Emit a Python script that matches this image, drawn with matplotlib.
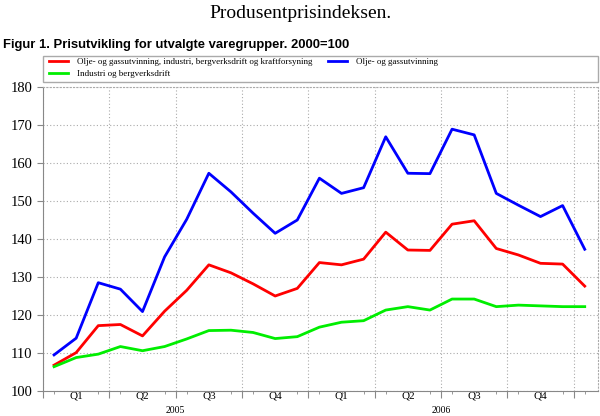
import matplotlib
matplotlib.use("Agg")
import matplotlib.pyplot as plt
from matplotlib.patches import Rectangle
import numpy as np

months = list(range(25))  # Jan 2005 .. Jan 2007
total = [106.8, 110.1, 117.2, 117.5, 114.5, 121.0, 126.5, 133.2, 131.1, 128.2, 125.0, 127.0,
         133.8, 133.2, 134.7, 141.8, 137.1, 137.0, 143.9, 144.8, 137.5, 135.8, 133.6, 133.4, 127.6]
oil = [109.5, 113.9, 128.5, 126.8, 120.9, 135.3, 145.2, 157.3, 152.4, 146.8, 141.5, 145.0,
       156.0, 152.0, 153.5, 166.9, 157.3, 157.2, 168.9, 167.4, 152.0, 148.9, 145.9, 148.8, 137.3]
industry = [106.4, 108.8, 109.7, 111.7, 110.6, 111.7, 113.7, 115.9, 116.0, 115.4, 113.8, 114.3,
            116.8, 118.1, 118.5, 121.3, 122.2, 121.3, 124.2, 124.2, 122.2, 122.6, 122.4, 122.2, 122.2]
labels = ["Olje- og gassutvinning, industri, bergverksdrift og kraftforsyning",
          "Olje- og gassutvinning",
          "Industri og bergverksdrift"]
quarters = ["Q1", "Q2", "Q3", "Q4", "Q1", "Q2", "Q3", "Q4"]
years = ["2005", "2006"]
yticks = [100, 110, 120, 130, 140, 150, 160, 170, 180]

serif = ["Liberation Serif", "DejaVu Serif"]
sans = ["Liberation Sans", "DejaVu Sans"]

fig = plt.figure(figsize=(6, 4.16), dpi=100)
W, H = 600, 416
ax = fig.add_axes([43 / W, 1 - 391 / H, (598 - 43) / W, (391 - 87) / H])

x = np.array(months) + 0.5
l1, = ax.plot(x, total, color="#ff0000", lw=2)
l2, = ax.plot(x, oil, color="#0000ff", lw=2)
l3, = ax.plot(x, industry, color="#00ee00", lw=2)

ax.set_xlim(0, 25.1)
ax.set_ylim(100, 180)
ax.set_yticks(yticks)
ax.set_yticklabels([str(v) for v in yticks], family=serif, fontsize=10.5)

# quarter boundaries (major ticks + grid)
ax.set_xticks([3 * i for i in range(9)])
ax.set_xticklabels([])
ax.set_xticks(x, minor=True)
ax.tick_params(axis="x", which="major", length=5, color="#888888")
ax.tick_params(axis="x", which="minor", length=2.5, color="#888888")
ax.tick_params(axis="y", length=4, color="#888888")
ax.grid(True, which="major", color="#aaaaaa", linestyle=(0, (1, 2)), lw=0.8)

for i, q in enumerate(quarters):
    ax.text(3 * i + 1.5, 98.7, q, ha="center", va="center", family=serif, fontsize=8)
for i, yr in enumerate(years):
    ax.text(12 * i + 6, 94.8, yr, ha="center", va="center", family=serif, fontsize=7)

for s in ["top", "right"]:
    ax.spines[s].set_color("#aaaaaa")
    ax.spines[s].set_linestyle((0, (1, 2)))
for s in ["left", "bottom"]:
    ax.spines[s].set_color("#888888")

fig.text(300 / W, 1 - 13 / H, "Produsentprisindeksen.", ha="center", va="center",
         family=serif, fontsize=14)
fig.text(3 / W, 1 - 45 / H, "Figur 1. Prisutvikling for utvalgte varegrupper. 2000=100",
         ha="left", va="center", family=sans, fontsize=9.4, fontweight="bold")

# legend frame
fig.patches.append(Rectangle((43 / W, 1 - 82 / H), (598 - 43) / W, 26 / H,
                             transform=fig.transFigure, facecolor="white",
                             edgecolor="#aaaaaa", lw=1.0))

leg = fig.legend([l1, l3, l2], [labels[0], labels[2], labels[1]], loc="upper left",
                 bbox_to_anchor=(49 / W, 1 - 58 / H),
                 ncol=2, prop={"family": serif, "size": 6.5},
                 frameon=False, handlelength=2.1, handleheight=0.7,
                 borderpad=0, labelspacing=0.36, columnspacing=1.75,
                 handletextpad=1.0, borderaxespad=0)

fig.savefig("out.png", dpi=100)
